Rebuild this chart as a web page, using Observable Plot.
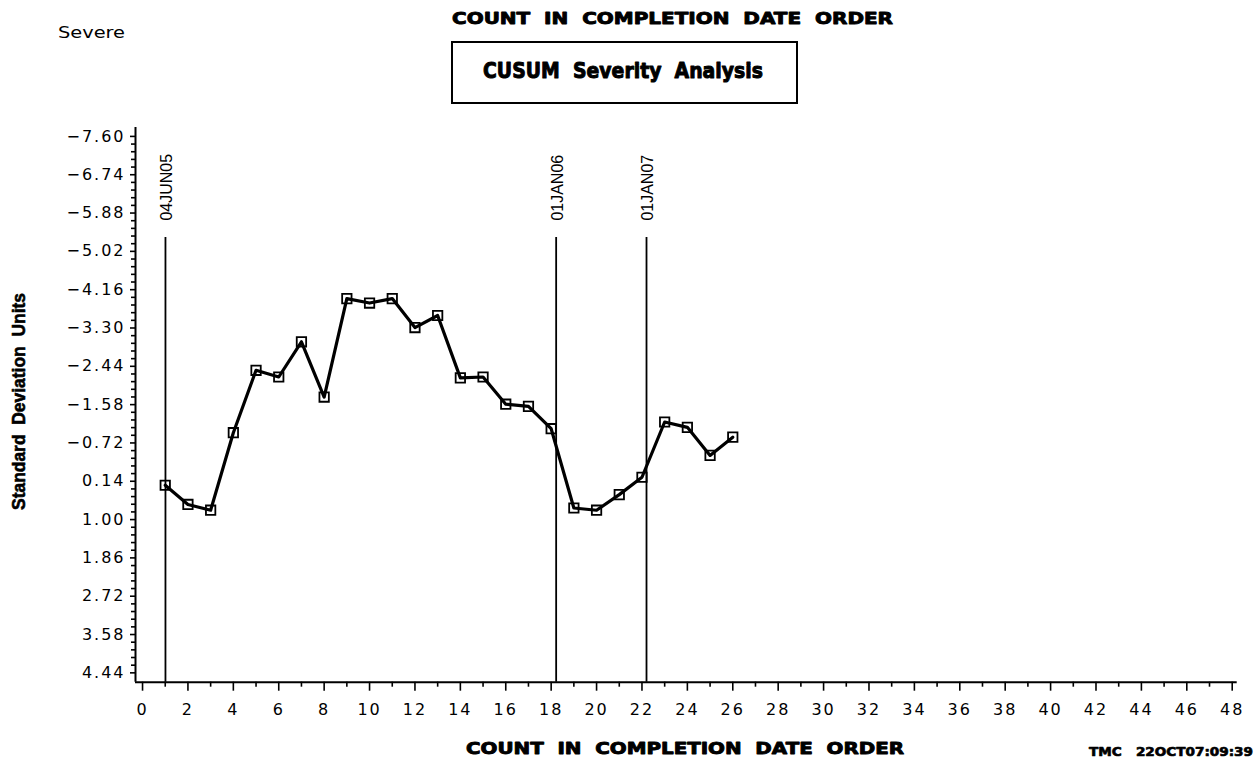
<!DOCTYPE html>
<html><head><meta charset="utf-8">
<script src="https://cdn.jsdelivr.net/npm/d3@7"></script>
<script src="https://cdn.jsdelivr.net/npm/@observablehq/plot@0.6"></script>
<style>
html,body{margin:0;padding:0;background:#fff;}
#chart{width:1260px;height:761px;overflow:hidden;position:relative;}
</style></head><body><div id="chart"></div>
<script>
// ---- data ----
const counts = [1,2,3,4,5,6,7,8,9,10,11,12,13,14,15,16,17,18,19,20,21,22,23,24,25,26];
const cusum = [0.23,0.66,0.79,-0.95,-2.35,-2.20,-2.99,-1.75,-3.96,-3.86,-3.96,-3.31,-3.58,-2.18,-2.20,-1.59,-1.54,-1.04,0.74,0.79,0.44,0.05,-1.19,-1.07,-0.44,-0.85];
const xTicks = [0,2,4,6,8,10,12,14,16,18,20,22,24,26,28,30,32,34,36,38,40,42,44,46,48];
const xMinorTicks = [1,3,5,7,9,11,13,15,17,19,21,23,25,27,29,31,33,35,37,39,41,43,45,47];
const yTicks = [-7.60,-6.74,-5.88,-5.02,-4.16,-3.30,-2.44,-1.58,-0.72,0.14,1.00,1.86,2.72,3.58,4.44];
const refX = [1.01, 18.22, 22.20];
const refLabels = ["04JUN05","01JAN06","01JAN07"];
const refTop = -5.33;
const refLabelY = -5.71;
const xDomain = [-0.31, 48.22];
const yDomain = [4.65, -7.80];
const titleText = "COUNT  IN  COMPLETION  DATE  ORDER";
const subtitleText = "CUSUM  Severity  Analysis";
const cornerText = "Severe";
const yLabelText = "Standard  Deviation  Units";
const footText = "TMC   22OCT07:09:39";

const data = counts.map((c, i) => ({count: c, value: cusum[i]}));
const refs = refX.map((x, i) => ({x, label: refLabels[i]}));
// minor y ticks: 4 between each pair of labelled ticks
const yMinorTicks = [];
for (let i = 0; i < yTicks.length - 1; i++) {
  const step = (yTicks[i+1] - yTicks[i]) / 5;
  for (let k = 1; k < 5; k++) yMinorTicks.push(yTicks[i] + k * step);
}

const fmt = d3.format(".2f");
const svg = Plot.plot({
  width: 1260,
  height: 761,
  marginLeft: 135,
  marginRight: 23.3,
  marginTop: 127,
  marginBottom: 79.3,
  style: {fontFamily: "'DejaVu Sans', sans-serif", fontSize: "16px", color: "black", background: "white", overflow: "visible"},
  x: {domain: xDomain, axis: null},
  y: {domain: yDomain, axis: null},
  marks: [
    Plot.axisX(xTicks, {tickSize: 9, tickPadding: 12, strokeWidth: 1.6, label: null, fontSize: 16}),
    Plot.axisX(xMinorTicks, {tickSize: 5, strokeWidth: 1.6, label: null, tickFormat: () => ""}),
    Plot.axisY(yTicks, {tickSize: 5, tickPadding: 5, strokeWidth: 1.6, label: null, tickFormat: fmt, fontSize: 16}),
    Plot.axisY(yMinorTicks, {tickSize: 4, strokeWidth: 1.6, label: null, tickFormat: () => ""}),
    Plot.ruleX([xDomain[0]], {strokeWidth: 2, stroke: "black"}),
    Plot.ruleY([yDomain[0]], {strokeWidth: 2, stroke: "black"}),
    Plot.ruleX(refs, {x: "x", y1: refTop, y2: yDomain[0], stroke: "black", strokeWidth: 1.8}),
    Plot.text(refs, {x: "x", y: refLabelY, text: "label", rotate: -90, textAnchor: "start", lineAnchor: "middle", fontFamily: "'Liberation Sans', Arial, sans-serif", fontSize: 16, fill: "black", dx: 1.5}),
    Plot.line(data, {x: "count", y: "value", stroke: "black", strokeWidth: 3.2}),
    Plot.dot(data, {x: "count", y: "value", symbol: "square", r: 5.3, stroke: "black", strokeWidth: 1.8, fill: "none"})
  ]
});

svg.querySelectorAll('[aria-label$="tick label"] text').forEach(t => t.setAttribute("letter-spacing", "2"));

const s = d3.select(svg);
function addText(txt, x, y, opts) {
  const t = s.append("text").text(txt)
    .attr("x", x).attr("y", y)
    .attr("fill", "black")
    .attr("font-family", opts.family || "'DejaVu Sans', sans-serif")
    .attr("font-size", opts.size)
    .attr("font-weight", opts.weight || "normal")
    .attr("text-anchor", opts.anchor || "middle");
  if (opts.len) t.attr("textLength", opts.len).attr("lengthAdjust", "spacingAndGlyphs");
  if (opts.heavy) t.attr("stroke", "black").attr("stroke-width", opts.heavy).attr("stroke-linejoin", "round");
  if (opts.transform) t.attr("transform", opts.transform);
  return t;
}
addText(titleText, 672.5, 24, {size: 16, weight: "bold", len: 441, heavy: 0.9});
s.append("rect").attr("x", 452).attr("y", 42).attr("width", 345).attr("height", 61)
  .attr("fill", "none").attr("stroke", "black").attr("stroke-width", 2);
addText(subtitleText, 623, 77.5, {size: 21, weight: "bold", len: 280, heavy: 1});
addText(cornerText, 58, 38, {size: 16, anchor: "start", len: 67});
addText(titleText, 685, 754, {size: 16, weight: "bold", len: 438, heavy: 0.9});
addText(footText, 1089, 756, {size: 13, weight: "bold", anchor: "start", len: 164, heavy: 0.7});
addText(yLabelText, 0, 0, {size: 18, weight: "bold", family: "'Liberation Sans', Arial, sans-serif", len: 217, heavy: 0.6, transform: "translate(25,401.5) rotate(-90)"});

document.getElementById("chart").appendChild(svg);
</script>
</body></html>
